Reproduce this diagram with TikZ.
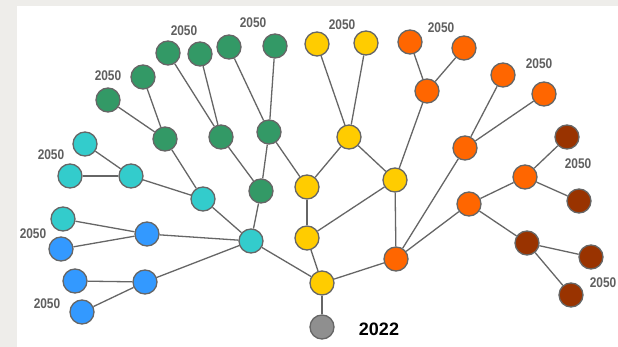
\documentclass[tikz,border=0pt]{standalone}
\usepackage{fontspec}
\setmainfont{Liberation Sans}
\definecolor{bgout}{HTML}{EEEDEA}
\definecolor{edgec}{HTML}{666666}
\definecolor{labc}{HTML}{5F5F5F}
\definecolor{cgreen}{HTML}{339966}
\definecolor{ccyan}{HTML}{33CCCC}
\definecolor{cblue}{HTML}{3399FF}
\definecolor{cyellow}{HTML}{FFCC00}
\definecolor{corange}{HTML}{FF6600}
\definecolor{cred}{HTML}{993300}
\definecolor{cgray}{HTML}{8F8F8F}
\begin{document}
\begin{tikzpicture}[x=1pt,y=-1pt,
  nd/.style={circle,draw=edgec,line width=1.3pt,minimum size=24pt,inner sep=0pt},
  gnode/.style={nd,fill=cgreen},
  cnode/.style={nd,fill=ccyan},
  bnode/.style={nd,fill=cblue},
  ynode/.style={nd,fill=cyellow},
  onode/.style={nd,fill=corange},
  rnode/.style={nd,fill=cred},
  grnode/.style={nd,fill=cgray},
  conn/.style={draw=edgec,line width=1.3pt},
  lab/.style={text=labc,font=\bfseries\fontsize{14}{14}\selectfont,inner sep=0pt},
  yearlab/.style={text=black,font=\bfseries\fontsize{18}{18}\selectfont,inner sep=0pt}]
\useasboundingbox (0,0) rectangle (618,347);
\fill[bgout] (0,0) rectangle (618,347);
\fill[white] (17,6) rectangle (618,347);
% gray / yellow
\node[grnode] (gr) at (322,327) {};
\node[ynode] (y0) at (322,283) {};
\node[ynode] (y1) at (307,238) {};
\node[ynode] (y2) at (307,187) {};
\node[ynode] (y3) at (395,180) {};
\node[ynode] (y4) at (349,137) {};
\node[ynode] (y5) at (317,44) {};
\node[ynode] (y6) at (366,43) {};
% cyan
\node[cnode] (ch) at (251,241) {};
\node[cnode] (c4) at (203,199) {};
\node[cnode] (c3) at (131,176) {};
\node[cnode] (c2) at (70,176) {};
\node[cnode] (c1) at (85,144) {};
\node[cnode] (c5) at (63,219) {};
% blue
\node[bnode] (b1) at (147,234) {};
\node[bnode] (b2) at (61,249) {};
\node[bnode] (b4) at (145,282) {};
\node[bnode] (b3) at (75,281) {};
\node[bnode] (b5) at (82,312) {};
% green
\node[gnode] (g7) at (261,191) {};
\node[gnode] (gm1) at (165,139) {};
\node[gnode] (gm2) at (221,137) {};
\node[gnode] (gm3) at (269,132) {};
\node[gnode] (g1) at (168,53) {};
\node[gnode] (g2) at (200,54) {};
\node[gnode] (g3) at (229,47) {};
\node[gnode] (g4) at (275,46) {};
\node[gnode] (g5) at (143,77) {};
\node[gnode] (g6) at (108,100) {};
% orange
\node[onode] (oh) at (396,259) {};
\node[onode] (o1) at (427,91) {};
\node[onode] (o2) at (410,42) {};
\node[onode] (o3) at (464,48) {};
\node[onode] (o4) at (465,148) {};
\node[onode] (o5) at (503,75) {};
\node[onode] (o6) at (544,94) {};
\node[onode] (o7) at (469,204) {};
\node[onode] (o8) at (525,177) {};
% red
\node[rnode] (r1) at (567,137) {};
\node[rnode] (r2) at (579,201) {};
\node[rnode] (r3) at (527,243) {};
\node[rnode] (r4) at (591,257) {};
\node[rnode] (r5) at (571,295) {};
% connectors
\path[conn] (gr) -- (y0);
\path[conn] (y0) -- (ch);
\path[conn] (y0) -- (y1);
\path[conn] (y0) -- (oh);
\path[conn] (y1) -- (y2);
\path[conn] (y1) -- (y3);
\path[conn] (y2) -- (y4);
\path[conn] (y2) -- (gm3);
\path[conn] (y4) -- (y5);
\path[conn] (y4) -- (y6);
\path[conn] (y4) -- (y3);
\path[conn] (y3) -- (oh);
\path[conn] (y3) -- (o1);
\path[conn] (o1) -- (o2);
\path[conn] (o1) -- (o3);
\path[conn] (oh) -- (o4);
\path[conn] (o4) -- (o5);
\path[conn] (o4) -- (o6);
\path[conn] (oh) -- (o7);
\path[conn] (o7) -- (o8);
\path[conn] (o8) -- (r1);
\path[conn] (o8) -- (r2);
\path[conn] (o7) -- (r3);
\path[conn] (r3) -- (r4);
\path[conn] (r3) -- (r5);
\path[conn] (ch) -- (g7);
\path[conn] (g7) -- (gm3);
\path[conn] (g7) -- (gm2);
\path[conn] (gm3) -- (g3);
\path[conn] (gm3) -- (g4);
\path[conn] (gm2) -- (g1);
\path[conn] (gm2) -- (g2);
\path[conn] (ch) -- (c4);
\path[conn] (c4) -- (gm1);
\path[conn] (gm1) -- (g5);
\path[conn] (gm1) -- (g6);
\path[conn] (c4) -- (c3);
\path[conn] (c3) -- (c2);
\path[conn] (c3) -- (c1);
\path[conn] (ch) -- (b1);
\path[conn] (b1) -- (c5);
\path[conn] (b1) -- (b2);
\path[conn] (ch) -- (b4);
\path[conn] (b4) -- (b3);
\path[conn] (b4) -- (b5);
% labels
\node[lab] (l1) at (184,31) {\scalebox{0.85}[1]{2050}};
\node[lab] (l2) at (253,23) {\scalebox{0.85}[1]{2050}};
\node[lab] (l3) at (108,76) {\scalebox{0.85}[1]{2050}};
\node[lab] (l4) at (51,155) {\scalebox{0.85}[1]{2050}};
\node[lab] (l5) at (33,234) {\scalebox{0.85}[1]{2050}};
\node[lab] (l6) at (47,304) {\scalebox{0.85}[1]{2050}};
\node[lab] (l7) at (342,25) {\scalebox{0.85}[1]{2050}};
\node[lab] (l8) at (441,28) {\scalebox{0.85}[1]{2050}};
\node[lab] (l9) at (539,64) {\scalebox{0.85}[1]{2050}};
\node[lab] (l10) at (578,164) {\scalebox{0.85}[1]{2050}};
\node[lab] (l11) at (603,283) {\scalebox{0.85}[1]{2050}};
\node[yearlab] (yr) at (379,329) {2022};
\end{tikzpicture}
\end{document}
